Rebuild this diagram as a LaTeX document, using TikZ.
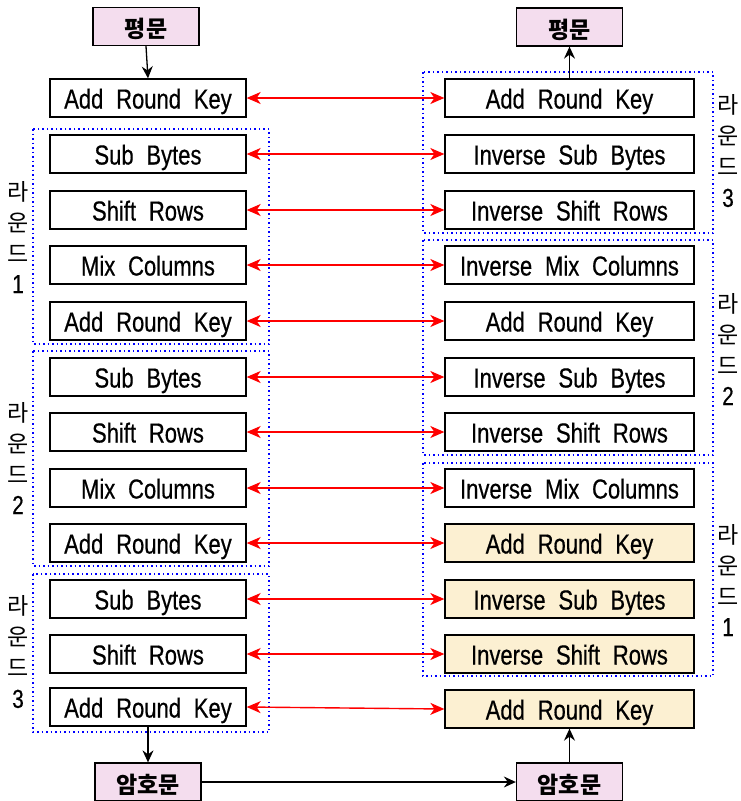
\documentclass[tikz,border=0pt]{standalone}
\usepackage{fontspec}
\setmainfont{Liberation Sans}[FakeStretch=0.8,WordSpace=2.1,FakeBold=0.5]
\newfontfamily\kr{Noto Sans CJK KR}
\usetikzlibrary{arrows.meta}
\definecolor{pinkc}{HTML}{F4DDEE}
\definecolor{yelc}{HTML}{FCF0D2}
\begin{document}
\begin{tikzpicture}[x=1pt,y=-1pt,
  box/.style={draw, line width=1.3pt, minimum width=196pt, minimum height=38pt, inner sep=0pt, text height=21pt, text depth=0pt, font=\fontsize{27.5}{27}\selectfont},
  rbox/.style={box, minimum width=249pt},
  ybox/.style={rbox, fill=yelc},
  kbox/.style={draw, line width=1.3pt, fill=pinkc, minimum width=106pt, minimum height=38pt, inner sep=0pt, text height=22pt, text depth=0pt, font=\kr\bfseries\fontsize{23}{23}\selectfont},
  grp/.style={draw=blue, line width=1.5pt, dash pattern=on 1.5pt off 3pt},
  lab/.style={align=center, inner sep=0pt, font=\kr\fontsize{23}{31}\selectfont},
  dig/.style={},
  redarr/.style={draw=red, line width=1.4pt, {Stealth[length=14pt,width=12pt,inset=4pt]}-{Stealth[length=14pt,width=12pt,inset=4pt]}},
  blkarr/.style={draw=black, line width=1.3pt, -{Stealth[length=12pt,width=11pt,inset=4pt]}}
]
\useasboundingbox (0,0) rectangle (740,801);

% groups
\draw[grp] (33,129) rectangle (269,344);
\draw[grp] (33,351) rectangle (269,566);
\draw[grp] (33,574) rectangle (269,732);
\draw[grp] (423,72) rectangle (713,233);
\draw[grp] (423,240) rectangle (713,455);
\draw[grp] (423,463) rectangle (713,676);

% top / bottom boxes
\node[kbox] (P1) at (146,26.5) {평문};
\node[kbox] (P2) at (569.5,27) {평문};
\node[kbox] (C1) at (148,782) {암호문};
\node[kbox] (C2) at (569.5,782) {암호문};

% left column
\node[box] (L1) at (148,98) {Add Round Key};
\node[box] (L2) at (148,154) {Sub Bytes};
\node[box] (L3) at (148,210) {Shift Rows};
\node[box] (L4) at (148,265) {Mix Columns};
\node[box] (L5) at (148,321) {Add Round Key};
\node[box] (L6) at (148,377) {Sub Bytes};
\node[box] (L7) at (148,432) {Shift Rows};
\node[box] (L8) at (148,488) {Mix Columns};
\node[box] (L9) at (148,543) {Add Round Key};
\node[box] (L10) at (148,599) {Sub Bytes};
\node[box] (L11) at (148,654) {Shift Rows};
\node[box] (L12) at (148,707) {Add Round Key};

% right column
\node[rbox] (R1) at (569.5,98) {Add Round Key};
\node[rbox] (R2) at (569.5,154) {Inverse Sub Bytes};
\node[rbox] (R3) at (569.5,210) {Inverse Shift Rows};
\node[rbox] (R4) at (569.5,265) {Inverse Mix Columns};
\node[rbox] (R5) at (569.5,321) {Add Round Key};
\node[rbox] (R6) at (569.5,377) {Inverse Sub Bytes};
\node[rbox] (R7) at (569.5,432) {Inverse Shift Rows};
\node[rbox] (R8) at (569.5,488) {Inverse Mix Columns};
\node[ybox] (R9) at (569.5,543) {Add Round Key};
\node[ybox] (R10) at (569.5,599) {Inverse Sub Bytes};
\node[ybox] (R11) at (569.5,654) {Inverse Shift Rows};
\node[ybox] (R12) at (569.5,709) {Add Round Key};

% labels
\node[lab] (la1) at (18,237) {라\\운\\드\\{\normalfont\fontsize{26}{31}\selectfont 1}};
\node[lab] (la2) at (18,458) {라\\운\\드\\{\normalfont\fontsize{26}{31}\selectfont 2}};
\node[lab] (la3) at (18,652) {라\\운\\드\\{\normalfont\fontsize{26}{31}\selectfont 3}};
\node[lab] (ra3) at (728,151) {라\\운\\드\\{\normalfont\fontsize{26}{31}\selectfont 3}};
\node[lab] (ra2) at (728,349) {라\\운\\드\\{\normalfont\fontsize{26}{31}\selectfont 2}};
\node[lab] (ra1) at (728,580) {라\\운\\드\\{\normalfont\fontsize{26}{31}\selectfont 1}};

% red arrows
\foreach \i in {1,...,12} {
  \draw[redarr] (L\i.east) -- (R\i.west);
}

% black arrows
\draw[blkarr] (P1.south) -- (L1.north);
\draw[blkarr] (R1.north) -- (P2.south);
\draw[blkarr] (L12.south) -- (C1.north);
\draw[blkarr] (C1.east) -- (C2.west);
\draw[blkarr] (C2.north) -- (R12.south);
\end{tikzpicture}
\end{document}
